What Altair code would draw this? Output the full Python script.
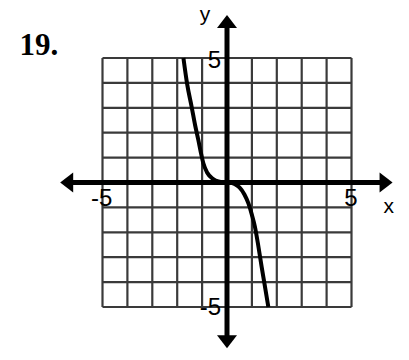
import altair as alt
import pandas as pd

# grid
grid_vals = list(range(-5, 6))

# curve points
curve_x = [-1.75, -1.6, -1.42, -1.28, -1.15, -1.05, -0.95, -0.8, -0.55, -0.35, -0.15, 0.1, 0.3, 0.5, 0.7, 0.86, 1.0, 1.12, 1.25, 1.39, 1.52, 1.66]
curve_y = [5.0, 3.95, 3.04, 2.3, 1.7, 1.2, 0.77, 0.4, 0.14, 0.04, 0.0, -0.01, -0.06, -0.2, -0.48, -0.84, -1.3, -1.77, -2.5, -3.38, -4.15, -5.0]

# axis arrows (tip positions)
arrow_x = [-6.7, 6.65, 0.0, 0.0]
arrow_y = [0.0, 0.0, 6.73, -6.66]
arrow_angle = [180, 0, 270, 90]

# tick labels
tick_text = ["-5", "5", "5", "-5"]
tick_x = [-4.6, 4.98, -0.24, -0.24]
tick_y = [-0.93, -0.93, 4.61, -5.31]
tick_align = ["right", "center", "right", "right"]

axis_text = ["x", "y"]
axis_tx = [6.5, -0.88]
axis_ty = [-1.22, 6.5]

UNIT = 24.9
W, H = 393, 344
x0, y0 = 219.0, 174.5
xdom = [-x0 / UNIT, (W - x0) / UNIT]
ydom = [-(H - y0) / UNIT, y0 / UNIT]

xs = alt.Scale(domain=xdom, nice=False, zero=False)
ys = alt.Scale(domain=ydom, nice=False, zero=False)

vgrid = pd.DataFrame({"x": grid_vals, "y1": -5, "y2": 5})
hgrid = pd.DataFrame({"y": grid_vals, "x1": -5, "x2": 5})

vg = alt.Chart(vgrid).mark_rule(color="#3a3a3a", strokeWidth=2.2).encode(
    x=alt.X("x:Q", scale=xs, axis=None),
    y=alt.Y("y1:Q", scale=ys, axis=None),
    y2="y2:Q",
)
hg = alt.Chart(hgrid).mark_rule(color="#3a3a3a", strokeWidth=2.2).encode(
    y=alt.Y("y:Q", scale=ys, axis=None),
    x=alt.X("x1:Q", scale=xs, axis=None),
    x2="x2:Q",
)

axes_df = pd.DataFrame({
    "x1": [arrow_x[0] + 0.4, 0.0],
    "x2": [arrow_x[1] - 0.4, 0.0],
    "y1": [0.0, arrow_y[3] + 0.4],
    "y2": [0.0, arrow_y[2] - 0.4],
})
ax = alt.Chart(axes_df).mark_rule(color="black", strokeWidth=5).encode(
    x=alt.X("x1:Q", scale=xs, axis=None),
    x2="x2:Q",
    y=alt.Y("y1:Q", scale=ys, axis=None),
    y2="y2:Q",
)

arr_df = pd.DataFrame({"x": arrow_x, "y": arrow_y, "a": arrow_angle})
arrows = alt.Chart(arr_df).mark_point(
    shape="M 0 0 L -1.3 -1 L -1.3 1 Z", filled=True, opacity=1, color="black", size=400, strokeWidth=0
).encode(
    x=alt.X("x:Q", scale=xs, axis=None),
    y=alt.Y("y:Q", scale=ys, axis=None),
    angle=alt.Angle("a:Q", scale=None),
)

curve_df = pd.DataFrame({"x": curve_x, "y": curve_y, "o": range(len(curve_x))})
curve = alt.Chart(curve_df).mark_line(color="black", strokeWidth=4, interpolate="monotone").encode(
    x=alt.X("x:Q", scale=xs, axis=None),
    y=alt.Y("y:Q", scale=ys, axis=None),
    order="o:O",
)

tick_layers = []
for t, tx, ty, al in zip(tick_text, tick_x, tick_y, tick_align):
    d = pd.DataFrame({"t": [t], "x": [tx], "y": [ty]})
    tick_layers.append(
        alt.Chart(d).mark_text(font="Liberation Sans", fontSize=24, color="black", baseline="alphabetic", align=al).encode(
            x=alt.X("x:Q", scale=xs, axis=None),
            y=alt.Y("y:Q", scale=ys, axis=None),
            text="t:N",
        )
    )

axl_df = pd.DataFrame({"t": axis_text, "x": axis_tx, "y": axis_ty})
axl = alt.Chart(axl_df).mark_text(font="Liberation Sans", fontSize=21, color="black", baseline="alphabetic", align="center").encode(
    x=alt.X("x:Q", scale=xs, axis=None),
    y=alt.Y("y:Q", scale=ys, axis=None),
    text="t:N",
)

num_df = pd.DataFrame({"t": ["19."], "x": [-8.33], "y": [5.12]})
num = alt.Chart(num_df).mark_text(font="Liberation Serif", fontSize=31, fontWeight="bold", color="black", baseline="alphabetic", align="left").encode(
    x=alt.X("x:Q", scale=xs, axis=None),
    y=alt.Y("y:Q", scale=ys, axis=None),
    text="t:N",
)

chart = alt.layer(vg, hg, ax, arrows, curve, *tick_layers, axl, num).properties(
    width=W, height=H, padding=0, autosize=alt.AutoSizeParams(type="none"), background="white"
).configure_view(stroke=None)

chart.save("out.html", embed_options={"renderer": "svg", "actions": False})
